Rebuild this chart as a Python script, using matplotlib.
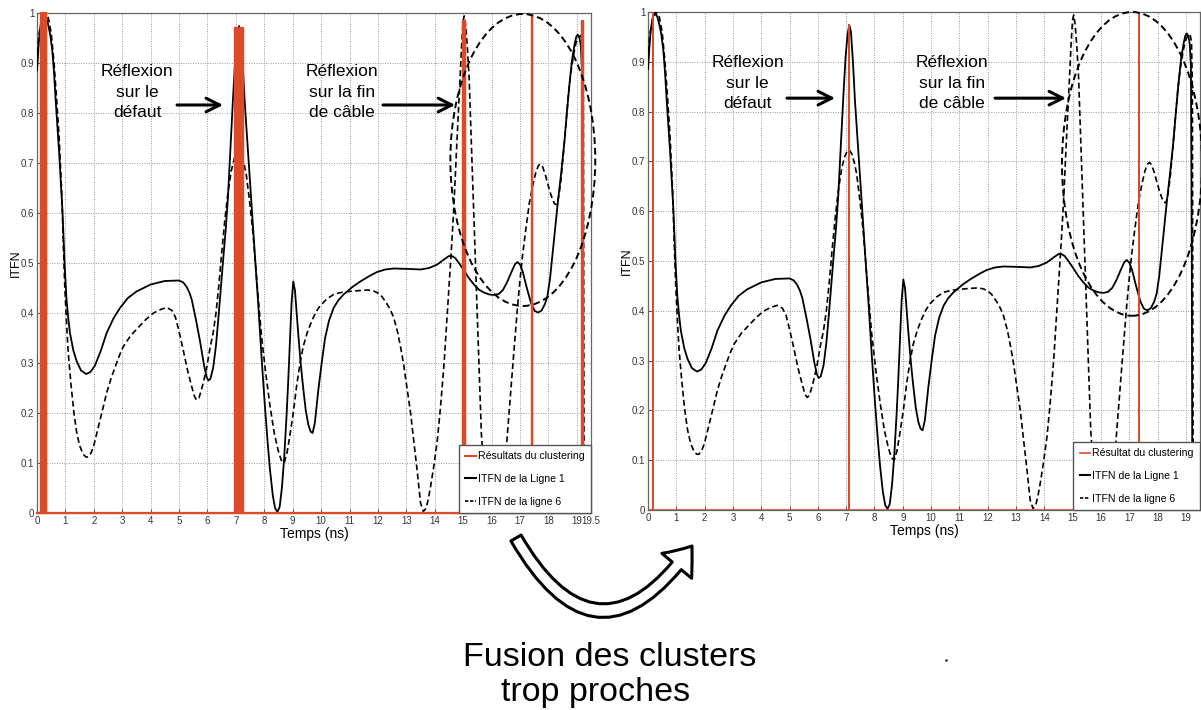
import numpy as np
import matplotlib.pyplot as plt
from matplotlib.patches import Ellipse, FancyArrowPatch
from matplotlib.lines import Line2D

### Data (time in ns, ITFN normalised)

t_ligne1 = [0.0, 0.05, 0.1, 0.17, 0.25, 0.33, 0.4, 0.47, 0.54, 0.6, 0.66, 0.78, 0.9,
            0.97, 1.035, 1.1, 1.16, 1.28, 1.4, 1.55, 1.73, 1.88, 2.04, 2.25, 2.45,
            2.7, 2.92, 3.2, 3.5, 4.0, 4.5, 5.0, 5.15, 5.27, 5.37, 5.45, 5.6, 5.74,
            5.88, 5.97, 6.03, 6.1, 6.2, 6.3, 6.39, 6.47, 6.55, 6.64, 6.72, 6.81, 6.9,
            6.98, 7.05, 7.11, 7.17, 7.24, 7.31, 7.43, 7.55, 7.67, 7.79, 7.9, 8.02,
            8.12, 8.2, 8.3, 8.38, 8.46, 8.54, 8.62, 8.7, 8.78, 8.84, 8.9, 8.96, 9.02,
            9.08, 9.14, 9.2, 9.28, 9.37, 9.46, 9.55, 9.63, 9.7, 9.78, 9.9, 10.02,
            10.14, 10.28, 10.44, 10.6, 10.79, 11.1, 11.38, 11.7, 11.97, 12.26, 12.56,
            13.15, 13.5, 13.8, 14.09, 14.35, 14.5, 14.6, 14.72, 14.85, 15.03, 15.2,
            15.38, 15.55, 15.73, 15.92, 16.1, 16.25, 16.4, 16.55, 16.7, 16.82, 16.91,
            17.0, 17.1, 17.25, 17.4, 17.52, 17.64, 17.76, 17.88, 17.97, 18.06, 18.15,
            18.33, 18.45, 18.56, 18.65, 18.74, 18.83, 18.92, 18.98, 19.03, 19.09,
            19.14, 19.18, 19.21, 19.23, 19.5]
itfn_ligne1 = [0.885, 0.93, 0.965, 0.99, 1.0, 0.99, 0.975, 0.955, 0.924, 0.88, 0.823,
               0.72, 0.6, 0.5, 0.43, 0.39, 0.36, 0.325, 0.303, 0.285, 0.278, 0.282,
               0.295, 0.325, 0.36, 0.39, 0.41, 0.43, 0.443, 0.457, 0.464, 0.465, 0.461,
               0.452, 0.44, 0.426, 0.385, 0.343, 0.295, 0.272, 0.265, 0.268, 0.29,
               0.335, 0.393, 0.45, 0.505, 0.565, 0.63, 0.73, 0.83, 0.91, 0.955, 0.974,
               0.96, 0.9, 0.823, 0.72, 0.615, 0.515, 0.415, 0.315, 0.215, 0.14, 0.087,
               0.035, 0.01, 0.002, 0.012, 0.05, 0.11, 0.19, 0.26, 0.34, 0.42, 0.463,
               0.445, 0.4, 0.355, 0.3, 0.25, 0.205, 0.177, 0.163, 0.16, 0.18, 0.245,
               0.3, 0.35, 0.385, 0.41, 0.425, 0.437, 0.452, 0.463, 0.474, 0.482, 0.487,
               0.489, 0.488, 0.487, 0.49, 0.497, 0.508, 0.514, 0.514, 0.51, 0.5, 0.485,
               0.47, 0.457, 0.447, 0.441, 0.437, 0.436, 0.438, 0.446, 0.462, 0.482,
               0.497, 0.502, 0.497, 0.482, 0.448, 0.418, 0.404, 0.401, 0.405, 0.418,
               0.435, 0.47, 0.52, 0.62, 0.68, 0.74, 0.8, 0.857, 0.905, 0.937, 0.952,
               0.957, 0.952, 0.935, 0.89, 0.5, 0.0, 0.0]

t_ligne6 = [0.0, 0.08, 0.16, 0.3, 0.4, 0.5, 0.6, 0.7, 0.78, 0.87, 0.93, 0.98, 1.04,
            1.1, 1.2, 1.3, 1.4, 1.5, 1.62, 1.72, 1.8, 1.9, 1.99, 2.1, 2.22, 2.45, 2.6,
            2.75, 2.9, 3.04, 3.3, 3.63, 3.85, 4.1, 4.35, 4.57, 4.75, 4.87, 4.97, 5.06,
            5.15, 5.3, 5.45, 5.55, 5.62, 5.7, 5.78, 5.86, 5.97, 6.09, 6.2, 6.3, 6.4,
            6.5, 6.61, 6.72, 6.84, 6.95, 7.03, 7.11, 7.2, 7.3, 7.37, 7.5, 7.61, 7.75,
            7.9, 8.05, 8.2, 8.35, 8.49, 8.6, 8.7, 8.8, 8.9, 9.02, 9.14, 9.26, 9.37,
            9.52, 9.67, 9.82, 9.96, 10.2, 10.44, 10.7, 10.97, 11.38, 11.65, 11.85,
            12.0, 12.14, 12.3, 12.45, 12.56, 12.7, 12.82, 12.91, 13.05, 13.15, 13.27,
            13.39, 13.5, 13.6, 13.7, 13.78, 13.86, 13.97, 14.09, 14.2, 14.33, 14.42,
            14.5, 14.6, 14.68, 14.77, 14.85, 14.9, 14.95, 15.0, 15.04, 15.09, 15.15,
            15.21, 15.32, 15.44, 15.56, 15.64, 15.75, 15.9, 16.1, 16.3, 16.45, 16.56,
            16.74, 16.91, 17.0, 17.09, 17.2, 17.33, 17.45, 17.56, 17.65, 17.72, 17.8,
            17.9, 17.97, 18.07, 18.15, 18.22, 18.3, 18.37, 18.45, 18.53, 18.62, 18.71,
            18.8, 18.9, 18.97, 19.06, 19.15, 19.2, 19.23, 19.26, 19.5]
itfn_ligne6 = [0.92, 0.96, 0.985, 1.0, 0.99, 0.96, 0.9, 0.82, 0.75, 0.64, 0.53, 0.45,
               0.38, 0.32, 0.255, 0.2, 0.16, 0.135, 0.118, 0.112, 0.112, 0.12, 0.133,
               0.158, 0.186, 0.24, 0.268, 0.292, 0.315, 0.333, 0.355, 0.375, 0.388,
               0.4, 0.407, 0.411, 0.405, 0.392, 0.37, 0.348, 0.325, 0.285, 0.252,
               0.232, 0.226, 0.23, 0.245, 0.262, 0.29, 0.33, 0.36, 0.4, 0.455, 0.52,
               0.585, 0.64, 0.685, 0.71, 0.72, 0.723, 0.715, 0.695, 0.675, 0.615,
               0.555, 0.455, 0.355, 0.28, 0.215, 0.16, 0.125, 0.105, 0.1, 0.12, 0.155,
               0.2, 0.255, 0.3, 0.333, 0.362, 0.384, 0.402, 0.414, 0.428, 0.437,
               0.441, 0.443, 0.445, 0.446, 0.444, 0.44, 0.433, 0.42, 0.405, 0.39,
               0.36, 0.325, 0.295, 0.24, 0.2, 0.14, 0.08, 0.02, 0.003, 0.01, 0.03,
               0.055, 0.095, 0.145, 0.21, 0.3, 0.38, 0.45, 0.54, 0.62, 0.73, 0.82,
               0.88, 0.94, 0.985, 0.994, 0.975, 0.93, 0.87, 0.69, 0.49, 0.29, 0.16,
               0.07, 0.02, 0.0, 0.02, 0.08, 0.16, 0.29, 0.41, 0.465, 0.515, 0.565,
               0.62, 0.655, 0.682, 0.695, 0.698, 0.692, 0.675, 0.66, 0.64, 0.627,
               0.618, 0.617, 0.635, 0.67, 0.72, 0.78, 0.84, 0.885, 0.92, 0.94, 0.952,
               0.955, 0.94, 0.85, 0.0, 0.0]

# clustering results before fusion (left) and after fusion (right)
clu_left_t = [0.15, 0.19, 0.23, 0.27, 0.30, 6.97, 7.02, 7.07, 7.12, 7.17, 7.22, 7.26,
              14.99, 15.04, 15.08, 17.43, 19.17, 19.21]
clu_left_h = [1.0, 1.0, 1.0, 1.0, 1.0, 0.97, 0.97, 0.97, 0.97, 0.97, 0.97, 0.97,
              0.985, 0.985, 0.985, 0.995, 0.985, 0.985]
clu_right_t = [0.18, 7.1, 17.35]
clu_right_h = [1.0, 0.974, 0.995]

xticks_left = list(range(20)) + [19.5]
xticklabels_left = [str(i) for i in range(20)] + ['19.5']
xticks_right = list(range(20))
yticks = np.round(np.arange(0, 1.01, 0.1), 1)
yticklabels = ['0'] + [f'{v:.1f}' for v in yticks[1:-1]] + ['1']

plt.rcParams['font.family'] = ['Liberation Sans', 'DejaVu Sans']

red = '#DC4A2A'
dash = (0, (3.5, 2))


def cluster_trace(ts, hs):
    x, y = [0.0], [0.0]
    for t, h in zip(ts, hs):
        x += [t, t, t]
        y += [0.0, h, 0.0]
    x.append(19.5)
    y.append(0.0)
    return x, y


def setup(ax, xticks, xticklabels):
    ax.set_xlim(0, 19.5)
    ax.set_ylim(0, 1)
    ax.set_xticks(xticks)
    ax.set_xticklabels(xticklabels, fontsize=7, color='#333333')
    ax.set_yticks(yticks)
    ax.set_yticklabels(yticklabels, fontsize=7, color='#333333')
    ax.tick_params(direction='in', length=3, pad=2, color='#555555')
    ax.grid(True, linestyle=(0, (1, 1.5)), color='#9a9a9a', lw=0.7)
    ax.set_axisbelow(True)
    for sp in ax.spines.values():
        sp.set_color('#666666')
        sp.set_linewidth(0.9)
    ax.set_xlabel('Temps (ns)', fontsize=10, labelpad=1)
    ax.set_ylabel('ITFN', fontsize=9, labelpad=-1)


def annotate(ax, ytxt, yarr, arr_def, arr_fin):
    ax.text(3.52, ytxt, 'Réflexion\nsur le\ndéfaut', ha='center', va='center',
            fontsize=12.5, linespacing=1.45)
    ax.text(10.74, ytxt, 'Réflexion\nsur la fin\nde câble', ha='center', va='center',
            fontsize=12.5, linespacing=1.45)
    for (x0, x1) in (arr_def, arr_fin):
        ax.annotate('', xy=(x1, yarr), xytext=(x0, yarr),
                    arrowprops=dict(arrowstyle='->,head_length=0.7,head_width=0.35',
                                    lw=2.2, color='black', mutation_scale=14,
                                    shrinkA=0, shrinkB=0))


def add_legend(ax, first_label, red_lw):
    ax.legend(handles=[Line2D([], [], color=red, lw=red_lw),
                       Line2D([], [], color='black', lw=1.5),
                       Line2D([], [], color='black', lw=1.2, ls=(0, (2, 1)))],
              labels=[first_label, 'ITFN de la Ligne 1', 'ITFN de la ligne 6'],
              loc='lower right', borderaxespad=0, fancybox=False, framealpha=1,
              edgecolor='#555555', fontsize=7.6, handlelength=1.0,
              handletextpad=0.2, borderpad=0.6, labelspacing=1.2)


fig = plt.figure(figsize=(12.01, 7.10), dpi=100)
W, H = 1201, 710

### Left panel (before fusion)

axl = fig.add_axes([37 / W, 1 - 513 / H, 554 / W, 500 / H])
setup(axl, xticks_left, xticklabels_left)
axl.plot(t_ligne1, itfn_ligne1, color='black', lw=1.3, zorder=3)
axl.plot(t_ligne6, itfn_ligne6, color='black', lw=1.2, ls=dash, zorder=3)
cx, cy = cluster_trace(clu_left_t, clu_left_h)
axl.plot(cx, cy, color=red, lw=1.6, zorder=4, clip_on=False)
axl.add_patch(Ellipse((17.1, 0.706), 5.1, 0.584, fill=False, ec='black', lw=1.4,
                      ls=dash, clip_on=False, zorder=5))
annotate(axl, 0.842, 0.816, (4.93, 6.55), (12.18, 14.72))
add_legend(axl, 'Résultats du clustering', 1.5)

### Right panel (after fusion)

axr = fig.add_axes([648 / W, 1 - 510 / H, 552 / W, 498 / H])
setup(axr, xticks_right, [str(i) for i in xticks_right])
axr.plot(t_ligne1, itfn_ligne1, color='black', lw=1.3, zorder=3)
axr.plot(t_ligne6, itfn_ligne6, color='black', lw=1.2, ls=dash, zorder=3)
cx, cy = cluster_trace(clu_right_t, clu_right_h)
axr.plot(cx, cy, color=red, lw=1.2, zorder=4)
axr.add_patch(Ellipse((17.1, 0.695), 4.95, 0.61, fill=False, ec='black', lw=1.4,
                      ls=dash, clip_on=False, zorder=5))
annotate(axr, 0.857, 0.827, (4.91, 6.61), (12.26, 14.77))
add_legend(axr, 'Résultat du clustering', 1.2)

### Curved arrow and caption (figure pixel coordinates)

over = fig.add_axes([0, 0, 1, 1])
over.set_xlim(0, W)
over.set_ylim(H, 0)
over.axis('off')
over.add_patch(FancyArrowPatch((516, 538), (692, 546), connectionstyle='arc3,rad=0.78',
                               arrowstyle='simple,head_length=18,head_width=28,tail_width=8.5',
                               mutation_scale=1, facecolor='white', edgecolor='black',
                               lw=2.2, shrinkA=0, shrinkB=0))
over.text(610, 657, 'Fusion des clusters', ha='center', va='center', fontsize=24.5)
over.text(596, 693, 'trop proches', ha='center', va='center', fontsize=24.5)
over.plot([946], [660], marker='.', color='#444444', ms=2)

fig.savefig('out.png', dpi=100)
